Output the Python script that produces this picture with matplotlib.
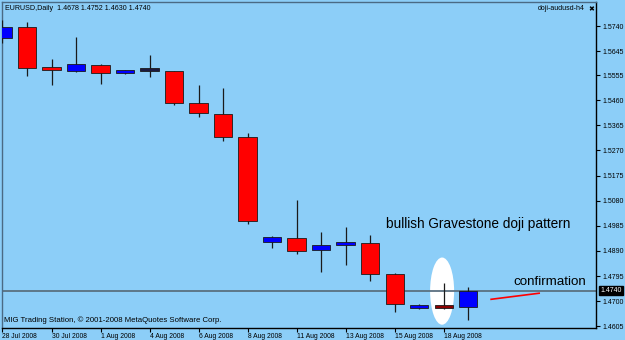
import matplotlib
matplotlib.use("Agg")
import matplotlib.pyplot as plt
from matplotlib.patches import Ellipse
import numpy as np

plt.rcParams["font.family"] = ["Liberation Sans", "DejaVu Sans"]

# ---- data ----
dates = ["28 Jul", "29 Jul", "30 Jul", "31 Jul", "1 Aug", "3 Aug", "4 Aug", "5 Aug",
         "6 Aug", "7 Aug", "8 Aug", "10 Aug", "11 Aug", "12 Aug", "13 Aug", "14 Aug",
         "15 Aug", "17 Aug", "18 Aug", "19 Aug"]
opens  = [1.5694, 1.5736, 1.5584, 1.5569, 1.5592, 1.5562, 1.5572, 1.5569, 1.5448, 1.5406,
          1.5322, 1.4924, 1.4939, 1.4893, 1.4912, 1.4920, 1.4802, 1.4673, 1.4681, 1.4678]
highs  = [1.5763, 1.5755, 1.5615, 1.5698, 1.5596, 1.5573, 1.5630, 1.5572, 1.5516, 1.5505,
          1.5334, 1.4947, 1.5083, 1.4962, 1.4981, 1.4950, 1.4806, 1.4688, 1.4768, 1.4752]
lows   = [1.5675, 1.5550, 1.5516, 1.5565, 1.5520, 1.5560, 1.5546, 1.5440, 1.5395, 1.5307,
          1.4992, 1.4901, 1.4878, 1.4810, 1.4836, 1.4776, 1.4658, 1.4671, 1.4669, 1.4630]
closes = [1.5736, 1.5581, 1.5573, 1.5596, 1.5562, 1.5569, 1.5570, 1.5448, 1.5410, 1.5322,
          1.5003, 1.4943, 1.4890, 1.4912, 1.4920, 1.4802, 1.4688, 1.4681, 1.4673, 1.4740]
body_colors = ["#0000FF", "#FF0000", "#FF0000", "#0000FF", "#FF0000", "#0000FF", "#1a1a40",
               "#FF0000", "#FF0000", "#FF0000", "#FF0000", "#0000FF", "#FF0000", "#0000FF",
               "#0000FF", "#FF0000", "#FF0000", "#0000FF", "#8B0000", "#0000FF"]

xtick_idx = [0, 2, 4, 6, 8, 10, 12, 14, 16, 18]
xtick_labels = ["28 Jul 2008", "30 Jul 2008", "1 Aug 2008", "4 Aug 2008", "6 Aug 2008",
                "8 Aug 2008", "11 Aug 2008", "13 Aug 2008", "15 Aug 2008", "18 Aug 2008"]
ytick_vals = [1.5740, 1.5645, 1.5555, 1.5460, 1.5365, 1.5270, 1.5175, 1.5080, 1.4985,
              1.4890, 1.4795, 1.4700, 1.4605]
last_price = 1.4740
confirm_x = [19.94, 21.9]
confirm_y = [1.4707, 1.4730]
doji_idx = 18
doji_center = 1.4738

BG = "#8CCEF8"
W, H = 625, 340
fig = plt.figure(figsize=(W / 100, H / 100), dpi=100, facecolor=BG)
ax = fig.add_axes([2 / W, 1 - 328 / H, 594 / W, 326 / H], facecolor=BG)

x = np.arange(len(dates))
ax.set_xlim(-0.02, 24.22)
ax.set_ylim(1.45985, 1.5831)

# highlight ellipse behind the doji
ax.add_patch(Ellipse((doji_idx - 0.06, doji_center), 0.98, 0.0254,
                     facecolor="white", edgecolor="none", zorder=1))

# horizontal last-price line
ax.axhline(last_price, color="#5a7080", lw=1.3, zorder=2)

# candles
o = np.array(opens); c = np.array(closes)
ax.vlines(x, lows, highs, color="#1a1a1a", lw=0.9, zorder=3)
bottoms = np.minimum(o, c)
heights = np.maximum(np.abs(c - o), 0.0012)
ax.bar(x, heights, bottom=bottoms, width=0.74, color=body_colors,
       edgecolor="#1a1a1a", linewidth=0.6, zorder=4)

# confirmation line
ax.plot(confirm_x, confirm_y, color="#FF0000", lw=1.2, zorder=5)

# annotations
ax.text(15.65, 1.4992, "bullish Gravestone doji pattern", fontsize=9.8,
        ha="left", va="center", color="black", zorder=6)
ax.text(20.84, 1.4772, "confirmation", fontsize=9.6,
        ha="left", va="center", color="black", zorder=6)

# axes styling
for side in ["left", "top"]:
    ax.spines[side].set_color("#4a6a85")
    ax.spines[side].set_linewidth(1.0)
for side in ["right", "bottom"]:
    ax.spines[side].set_color("black")
    ax.spines[side].set_linewidth(1.0)

ax.yaxis.tick_right()
ax.set_yticks(ytick_vals)
ax.set_yticklabels([f"{v:.4f}" for v in ytick_vals])
ax.tick_params(axis="y", direction="out", length=3, width=0.8, pad=1.5,
               labelsize=5, colors="black")

ax.set_xticks(xtick_idx)
ax.set_xticklabels(xtick_labels, ha="left")
ax.tick_params(axis="x", direction="out", length=3, width=0.8, pad=0.5,
               labelsize=4.9, colors="black")

# last price tag
ax.annotate(f"{last_price:.4f}", xy=(1.0, last_price), xycoords=("axes fraction", "data"),
            xytext=(3, 0), textcoords="offset points", fontsize=5, color="white",
            ha="left", va="center",
            bbox=dict(boxstyle="square,pad=0.15", facecolor="black", edgecolor="black"))

# header and footer texts
fig.text(5 / W, 1 - 8 / H, "EURUSD,Daily  1.4678 1.4752 1.4630 1.4740", fontsize=5.1,
         ha="left", va="center", color="black")
fig.text(585 / W, 1 - 9 / H, "doji-audusd-h4", fontsize=5, ha="right", va="center",
         color="black")
fig.text(588 / W, 1 - 9 / H, "\u2716", fontsize=5, ha="left", va="center", color="black",
         family="DejaVu Sans")
fig.text(4 / W, 1 - 320 / H, "MIG Trading Station, \u00a9 2001-2008 MetaQuotes Software Corp.",
         fontsize=5.55, ha="left", va="center", color="black")

fig.savefig("out.png", dpi=100, facecolor=BG)
